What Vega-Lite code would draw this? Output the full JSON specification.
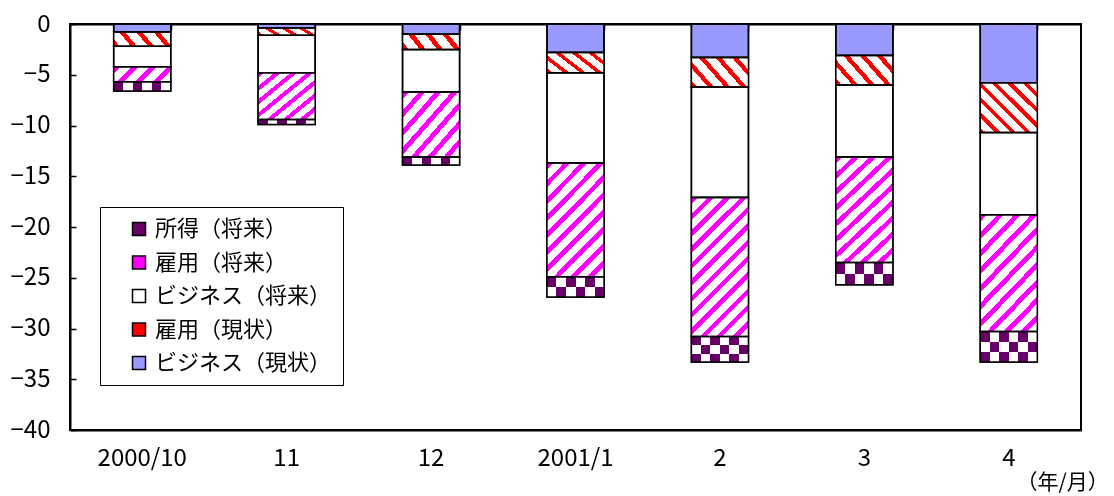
{
  "$schema": "https://vega.github.io/schema/vega-lite/v6.json",
  "width": 1011,
  "height": 406,
  "autosize": "none",
  "padding": {"left": 70, "top": 24, "right": 33, "bottom": 66},
  "background": "white",
  "config": {
    "view": {"stroke": "#000", "strokeWidth": 2},
    "font": "Noto Sans CJK JP",
    "axis": {"labelFont": "Noto Sans CJK JP", "labelColor": "#000", "labelFontSize": 24, "domainColor": "#000", "domainWidth": 2, "tickColor": "#000", "tickWidth": 1.5, "grid": false, "titleFont": "Noto Sans CJK JP", "titleColor": "#000", "titleFontWeight": "normal"},
    "legend": {"labelFont": "Noto Sans CJK JP", "labelColor": "#000", "labelFontSize": 22, "symbolType": "square", "symbolSize": 169, "symbolStrokeColor": "#000", "symbolStrokeWidth": 1.5, "strokeColor": "#000", "fillColor": "#fff", "padding": 11, "rowPadding": 11.5, "labelOffset": 5, "symbolOffset": 17, "labelLimit": 400}
  },
  "data": {"values": [
    {"month": "2000/10", "series": "ビジネス（現状）", "value": -0.8},
    {"month": "2000/10", "series": "雇用（現状）", "value": -1.4},
    {"month": "2000/10", "series": "ビジネス（将来）", "value": -2.0},
    {"month": "2000/10", "series": "雇用（将来）", "value": -1.5},
    {"month": "2000/10", "series": "所得（将来）", "value": -0.9},
    {"month": "11", "series": "ビジネス（現状）", "value": -0.4},
    {"month": "11", "series": "雇用（現状）", "value": -0.7},
    {"month": "11", "series": "ビジネス（将来）", "value": -3.7},
    {"month": "11", "series": "雇用（将来）", "value": -4.6},
    {"month": "11", "series": "所得（将来）", "value": -0.5},
    {"month": "12", "series": "ビジネス（現状）", "value": -1.0},
    {"month": "12", "series": "雇用（現状）", "value": -1.5},
    {"month": "12", "series": "ビジネス（将来）", "value": -4.2},
    {"month": "12", "series": "雇用（将来）", "value": -6.4},
    {"month": "12", "series": "所得（将来）", "value": -0.8},
    {"month": "2001/1", "series": "ビジネス（現状）", "value": -2.8},
    {"month": "2001/1", "series": "雇用（現状）", "value": -2.0},
    {"month": "2001/1", "series": "ビジネス（将来）", "value": -8.9},
    {"month": "2001/1", "series": "雇用（将来）", "value": -11.2},
    {"month": "2001/1", "series": "所得（将来）", "value": -2.0},
    {"month": "2", "series": "ビジネス（現状）", "value": -3.3},
    {"month": "2", "series": "雇用（現状）", "value": -2.9},
    {"month": "2", "series": "ビジネス（将来）", "value": -10.9},
    {"month": "2", "series": "雇用（将来）", "value": -13.7},
    {"month": "2", "series": "所得（将来）", "value": -2.5},
    {"month": "3", "series": "ビジネス（現状）", "value": -3.1},
    {"month": "3", "series": "雇用（現状）", "value": -2.9},
    {"month": "3", "series": "ビジネス（将来）", "value": -7.1},
    {"month": "3", "series": "雇用（将来）", "value": -10.4},
    {"month": "3", "series": "所得（将来）", "value": -2.2},
    {"month": "4", "series": "ビジネス（現状）", "value": -5.8},
    {"month": "4", "series": "雇用（現状）", "value": -4.9},
    {"month": "4", "series": "ビジネス（将来）", "value": -8.1},
    {"month": "4", "series": "雇用（将来）", "value": -11.5},
    {"month": "4", "series": "所得（将来）", "value": -3.0}
  ]},
  "transform": [{"stack": "value", "groupby": ["month"], "as": ["v0", "v1"]}],
  "encoding": {
    "x": {"field": "month", "type": "nominal", "scale": {"domain": ["2000/10", "11", "12", "2001/1", "2", "3", "4"], "paddingInner": 0.605, "paddingOuter": 0.3025}, "axis": null},
    "y": {"field": "v0", "type": "quantitative", "scale": {"domain": [-40, 0], "nice": false, "zero": false},
          "axis": {"orient": "left", "values": [0, -5, -10, -15, -20, -25, -30, -35, -40], "tickSize": -6, "labelPadding": 26, "title": null, "labelOverlap": false}},
    "y2": {"field": "v1"}
  },
  "layer": [
    {
      "mark": {"type": "bar", "stroke": "#000", "strokeWidth": 1.5},
      "encoding": {
        "x": {"field": "month", "type": "nominal", "scale": {"domain": ["2000/10", "11", "12", "2001/1", "2", "3", "4"], "paddingInner": 0.605, "paddingOuter": 0.3025},
              "axis": {"orient": "bottom", "ticks": false, "labelAngle": 0, "labelPadding": 16, "labelOverlap": false, "title": "（年/月）", "titleFontSize": 21, "titleAlign": "left", "titleBaseline": "middle", "titleAnchor": "start", "titleX": 946, "titleY": 52}},
        "color": {"field": "series", "type": "nominal",
                  "scale": {"domain": ["所得（将来）", "雇用（将来）", "ビジネス（将来）", "雇用（現状）", "ビジネス（現状）"], "range": ["#660066", "#FF00FF", "#FFFFFF", "#FF0000", "#9999FF"]},
                  "legend": {"title": null, "orient": "none", "legendX": 30, "legendY": 183}}
      }
    },
    {
      "transform": [{"filter": {"and": [{"field": "series", "equal": "雇用（将来）"}, {"field": "value", "lt": -12}]}}],
      "mark": {"type": "bar", "strokeWidth": 0,
        "fill": {"gradient": "linear", "x1": 0, "y1": 0, "x2": 0.495, "y2": 1.207, "stops": [
              {"offset": 0, "color": "#FF00FF"}, {"offset": 0.0333, "color": "#FF00FF"}, {"offset": 0.0333, "color": "#FFFFFF"}, {"offset": 0.0833, "color": "#FFFFFF"},
              {"offset": 0.0833, "color": "#FF00FF"}, {"offset": 0.1167, "color": "#FF00FF"}, {"offset": 0.1167, "color": "#FFFFFF"}, {"offset": 0.1667, "color": "#FFFFFF"},
              {"offset": 0.1667, "color": "#FF00FF"}, {"offset": 0.2, "color": "#FF00FF"}, {"offset": 0.2, "color": "#FFFFFF"}, {"offset": 0.25, "color": "#FFFFFF"},
              {"offset": 0.25, "color": "#FF00FF"}, {"offset": 0.2833, "color": "#FF00FF"}, {"offset": 0.2833, "color": "#FFFFFF"}, {"offset": 0.3333, "color": "#FFFFFF"},
              {"offset": 0.3333, "color": "#FF00FF"}, {"offset": 0.3667, "color": "#FF00FF"}, {"offset": 0.3667, "color": "#FFFFFF"}, {"offset": 0.4167, "color": "#FFFFFF"},
              {"offset": 0.4167, "color": "#FF00FF"}, {"offset": 0.45, "color": "#FF00FF"}, {"offset": 0.45, "color": "#FFFFFF"}, {"offset": 0.5, "color": "#FFFFFF"},
              {"offset": 0.5, "color": "#FF00FF"}, {"offset": 0.5333, "color": "#FF00FF"}, {"offset": 0.5333, "color": "#FFFFFF"}, {"offset": 0.5833, "color": "#FFFFFF"},
              {"offset": 0.5833, "color": "#FF00FF"}, {"offset": 0.6167, "color": "#FF00FF"}, {"offset": 0.6167, "color": "#FFFFFF"}, {"offset": 0.6667, "color": "#FFFFFF"},
              {"offset": 0.6667, "color": "#FF00FF"}, {"offset": 0.7, "color": "#FF00FF"}, {"offset": 0.7, "color": "#FFFFFF"}, {"offset": 0.75, "color": "#FFFFFF"},
              {"offset": 0.75, "color": "#FF00FF"}, {"offset": 0.7833, "color": "#FF00FF"}, {"offset": 0.7833, "color": "#FFFFFF"}, {"offset": 0.8333, "color": "#FFFFFF"},
              {"offset": 0.8333, "color": "#FF00FF"}, {"offset": 0.8667, "color": "#FF00FF"}, {"offset": 0.8667, "color": "#FFFFFF"}, {"offset": 0.9167, "color": "#FFFFFF"},
              {"offset": 0.9167, "color": "#FF00FF"}, {"offset": 0.95, "color": "#FF00FF"}, {"offset": 0.95, "color": "#FFFFFF"}, {"offset": 1, "color": "#FFFFFF"}]}}
    },
    {
      "transform": [{"filter": {"and": [{"field": "series", "equal": "雇用（将来）"}, {"field": "value", "gte": -12}, {"field": "value", "lt": -8}]}}],
      "mark": {"type": "bar", "strokeWidth": 0,
        "fill": {"gradient": "linear", "x1": 0, "y1": 0, "x2": 0.61, "y2": 1.199, "stops": [
              {"offset": 0, "color": "#FF00FF"}, {"offset": 0.04, "color": "#FF00FF"}, {"offset": 0.04, "color": "#FFFFFF"}, {"offset": 0.1, "color": "#FFFFFF"},
              {"offset": 0.1, "color": "#FF00FF"}, {"offset": 0.14, "color": "#FF00FF"}, {"offset": 0.14, "color": "#FFFFFF"}, {"offset": 0.2, "color": "#FFFFFF"},
              {"offset": 0.2, "color": "#FF00FF"}, {"offset": 0.24, "color": "#FF00FF"}, {"offset": 0.24, "color": "#FFFFFF"}, {"offset": 0.3, "color": "#FFFFFF"},
              {"offset": 0.3, "color": "#FF00FF"}, {"offset": 0.34, "color": "#FF00FF"}, {"offset": 0.34, "color": "#FFFFFF"}, {"offset": 0.4, "color": "#FFFFFF"},
              {"offset": 0.4, "color": "#FF00FF"}, {"offset": 0.44, "color": "#FF00FF"}, {"offset": 0.44, "color": "#FFFFFF"}, {"offset": 0.5, "color": "#FFFFFF"},
              {"offset": 0.5, "color": "#FF00FF"}, {"offset": 0.54, "color": "#FF00FF"}, {"offset": 0.54, "color": "#FFFFFF"}, {"offset": 0.6, "color": "#FFFFFF"},
              {"offset": 0.6, "color": "#FF00FF"}, {"offset": 0.64, "color": "#FF00FF"}, {"offset": 0.64, "color": "#FFFFFF"}, {"offset": 0.7, "color": "#FFFFFF"},
              {"offset": 0.7, "color": "#FF00FF"}, {"offset": 0.74, "color": "#FF00FF"}, {"offset": 0.74, "color": "#FFFFFF"}, {"offset": 0.8, "color": "#FFFFFF"},
              {"offset": 0.8, "color": "#FF00FF"}, {"offset": 0.84, "color": "#FF00FF"}, {"offset": 0.84, "color": "#FFFFFF"}, {"offset": 0.9, "color": "#FFFFFF"},
              {"offset": 0.9, "color": "#FF00FF"}, {"offset": 0.94, "color": "#FF00FF"}, {"offset": 0.94, "color": "#FFFFFF"}, {"offset": 1, "color": "#FFFFFF"}]}}
    },
    {
      "transform": [{"filter": {"and": [{"field": "series", "equal": "雇用（将来）"}, {"field": "value", "gte": -8}, {"field": "value", "lt": -3}]}}],
      "mark": {"type": "bar", "strokeWidth": 0,
        "fill": {"gradient": "linear", "x1": 0, "y1": 0, "x2": 1, "y2": 1, "stops": [
              {"offset": 0, "color": "#FF00FF"}, {"offset": 0.0571, "color": "#FF00FF"}, {"offset": 0.0571, "color": "#FFFFFF"}, {"offset": 0.1429, "color": "#FFFFFF"},
              {"offset": 0.1429, "color": "#FF00FF"}, {"offset": 0.2, "color": "#FF00FF"}, {"offset": 0.2, "color": "#FFFFFF"}, {"offset": 0.2857, "color": "#FFFFFF"},
              {"offset": 0.2857, "color": "#FF00FF"}, {"offset": 0.3429, "color": "#FF00FF"}, {"offset": 0.3429, "color": "#FFFFFF"}, {"offset": 0.4286, "color": "#FFFFFF"},
              {"offset": 0.4286, "color": "#FF00FF"}, {"offset": 0.4857, "color": "#FF00FF"}, {"offset": 0.4857, "color": "#FFFFFF"}, {"offset": 0.5714, "color": "#FFFFFF"},
              {"offset": 0.5714, "color": "#FF00FF"}, {"offset": 0.6286, "color": "#FF00FF"}, {"offset": 0.6286, "color": "#FFFFFF"}, {"offset": 0.7143, "color": "#FFFFFF"},
              {"offset": 0.7143, "color": "#FF00FF"}, {"offset": 0.7714, "color": "#FF00FF"}, {"offset": 0.7714, "color": "#FFFFFF"}, {"offset": 0.8571, "color": "#FFFFFF"},
              {"offset": 0.8571, "color": "#FF00FF"}, {"offset": 0.9143, "color": "#FF00FF"}, {"offset": 0.9143, "color": "#FFFFFF"}, {"offset": 1, "color": "#FFFFFF"}]}}
    },
    {
      "transform": [{"filter": {"and": [{"field": "series", "equal": "雇用（将来）"}, {"field": "value", "gte": -3}]}}],
      "mark": {"type": "bar", "strokeWidth": 0,
        "fill": {"gradient": "linear", "x1": 0, "y1": 0, "x2": 1.18, "y2": 0.307, "stops": [
              {"offset": 0, "color": "#FF00FF"}, {"offset": 0.1, "color": "#FF00FF"}, {"offset": 0.1, "color": "#FFFFFF"}, {"offset": 0.25, "color": "#FFFFFF"},
              {"offset": 0.25, "color": "#FF00FF"}, {"offset": 0.35, "color": "#FF00FF"}, {"offset": 0.35, "color": "#FFFFFF"}, {"offset": 0.5, "color": "#FFFFFF"},
              {"offset": 0.5, "color": "#FF00FF"}, {"offset": 0.6, "color": "#FF00FF"}, {"offset": 0.6, "color": "#FFFFFF"}, {"offset": 0.75, "color": "#FFFFFF"},
              {"offset": 0.75, "color": "#FF00FF"}, {"offset": 0.85, "color": "#FF00FF"}, {"offset": 0.85, "color": "#FFFFFF"}, {"offset": 1, "color": "#FFFFFF"}]}}
    },
    {
      "transform": [{"filter": {"and": [{"field": "series", "equal": "雇用（現状）"}, {"field": "value", "lt": -3.5}]}}],
      "mark": {"type": "bar", "strokeWidth": 0,
        "fill": {"gradient": "linear", "x1": 0, "y1": 1, "x2": 1.061, "y2": 0.069, "stops": [
              {"offset": 0, "color": "#FF0000"}, {"offset": 0.05, "color": "#FF0000"}, {"offset": 0.05, "color": "#FFFFFF"}, {"offset": 0.1429, "color": "#FFFFFF"},
              {"offset": 0.1429, "color": "#FF0000"}, {"offset": 0.1929, "color": "#FF0000"}, {"offset": 0.1929, "color": "#FFFFFF"}, {"offset": 0.2857, "color": "#FFFFFF"},
              {"offset": 0.2857, "color": "#FF0000"}, {"offset": 0.3357, "color": "#FF0000"}, {"offset": 0.3357, "color": "#FFFFFF"}, {"offset": 0.4286, "color": "#FFFFFF"},
              {"offset": 0.4286, "color": "#FF0000"}, {"offset": 0.4786, "color": "#FF0000"}, {"offset": 0.4786, "color": "#FFFFFF"}, {"offset": 0.5714, "color": "#FFFFFF"},
              {"offset": 0.5714, "color": "#FF0000"}, {"offset": 0.6214, "color": "#FF0000"}, {"offset": 0.6214, "color": "#FFFFFF"}, {"offset": 0.7143, "color": "#FFFFFF"},
              {"offset": 0.7143, "color": "#FF0000"}, {"offset": 0.7643, "color": "#FF0000"}, {"offset": 0.7643, "color": "#FFFFFF"}, {"offset": 0.8571, "color": "#FFFFFF"},
              {"offset": 0.8571, "color": "#FF0000"}, {"offset": 0.9071, "color": "#FF0000"}, {"offset": 0.9071, "color": "#FFFFFF"}, {"offset": 1, "color": "#FFFFFF"}]}}
    },
    {
      "transform": [{"filter": {"and": [{"field": "series", "equal": "雇用（現状）"}, {"field": "value", "gte": -3.5}, {"field": "value", "lt": -1.7}]}}],
      "mark": {"type": "bar", "strokeWidth": 0,
        "fill": {"gradient": "linear", "x1": 0, "y1": 1, "x2": 1.205, "y2": 0.45, "stops": [
              {"offset": 0, "color": "#FF0000"}, {"offset": 0.07, "color": "#FF0000"}, {"offset": 0.07, "color": "#FFFFFF"}, {"offset": 0.2, "color": "#FFFFFF"},
              {"offset": 0.2, "color": "#FF0000"}, {"offset": 0.27, "color": "#FF0000"}, {"offset": 0.27, "color": "#FFFFFF"}, {"offset": 0.4, "color": "#FFFFFF"},
              {"offset": 0.4, "color": "#FF0000"}, {"offset": 0.47, "color": "#FF0000"}, {"offset": 0.47, "color": "#FFFFFF"}, {"offset": 0.6, "color": "#FFFFFF"},
              {"offset": 0.6, "color": "#FF0000"}, {"offset": 0.67, "color": "#FF0000"}, {"offset": 0.67, "color": "#FFFFFF"}, {"offset": 0.8, "color": "#FFFFFF"},
              {"offset": 0.8, "color": "#FF0000"}, {"offset": 0.87, "color": "#FF0000"}, {"offset": 0.87, "color": "#FFFFFF"}, {"offset": 1, "color": "#FFFFFF"}]}}
    },
    {
      "transform": [{"filter": {"and": [{"field": "series", "equal": "雇用（現状）"}, {"field": "value", "gte": -1.7}]}}],
      "mark": {"type": "bar", "strokeWidth": 0,
        "fill": {"gradient": "linear", "x1": 0, "y1": 1, "x2": 1.159, "y2": 0.757, "stops": [
              {"offset": 0, "color": "#FF0000"}, {"offset": 0.0875, "color": "#FF0000"}, {"offset": 0.0875, "color": "#FFFFFF"}, {"offset": 0.25, "color": "#FFFFFF"},
              {"offset": 0.25, "color": "#FF0000"}, {"offset": 0.3375, "color": "#FF0000"}, {"offset": 0.3375, "color": "#FFFFFF"}, {"offset": 0.5, "color": "#FFFFFF"},
              {"offset": 0.5, "color": "#FF0000"}, {"offset": 0.5875, "color": "#FF0000"}, {"offset": 0.5875, "color": "#FFFFFF"}, {"offset": 0.75, "color": "#FFFFFF"},
              {"offset": 0.75, "color": "#FF0000"}, {"offset": 0.8375, "color": "#FF0000"}, {"offset": 0.8375, "color": "#FFFFFF"}, {"offset": 1, "color": "#FFFFFF"}]}}
    },
    {
      "transform": [{"filter": {"and": [{"field": "series", "equal": "所得（将来）"}, {"field": "value", "lt": -2.3}]}}],
      "mark": {"type": "bar", "strokeWidth": 0,
        "fill": {"gradient": "linear", "x1": 0, "y1": 0, "x2": 0, "y2": 1, "stops": [
              {"offset": 0, "color": "#000000"}, {"offset": 0.3333, "color": "#000000"}, {"offset": 0.3333, "color": "#FFFFFF"}, {"offset": 0.6667, "color": "#FFFFFF"},
              {"offset": 0.6667, "color": "#000000"}, {"offset": 1, "color": "#000000"}]}}
    },
    {
      "transform": [{"filter": {"and": [{"field": "series", "equal": "所得（将来）"}, {"field": "value", "gte": -2.3}, {"field": "value", "lt": -1.5}]}}],
      "mark": {"type": "bar", "strokeWidth": 0,
        "fill": {"gradient": "linear", "x1": 0, "y1": 0, "x2": 0, "y2": 1, "stops": [
              {"offset": 0, "color": "#000000"}, {"offset": 0.5, "color": "#000000"}, {"offset": 0.5, "color": "#FFFFFF"}, {"offset": 1, "color": "#FFFFFF"}]}}
    },
    {
      "transform": [{"filter": {"and": [{"field": "series", "equal": "所得（将来）"}, {"field": "value", "gte": -1.5}]}}],
      "mark": {"type": "bar", "strokeWidth": 0, "fill": "#000000"}
    },
    {
      "transform": [{"filter": {"field": "series", "equal": "所得（将来）"}}],
      "mark": {"type": "bar", "strokeWidth": 0, "blend": "difference",
        "fill": {"gradient": "linear", "x1": 0, "y1": 0, "x2": 1, "y2": 0, "stops": [
          {"offset": 0, "color": "#000000"}, {"offset": 0.1667, "color": "#000000"}, {"offset": 0.1667, "color": "#FFFFFF"}, {"offset": 0.3333, "color": "#FFFFFF"},
          {"offset": 0.3333, "color": "#000000"}, {"offset": 0.5, "color": "#000000"}, {"offset": 0.5, "color": "#FFFFFF"}, {"offset": 0.6667, "color": "#FFFFFF"},
          {"offset": 0.6667, "color": "#000000"}, {"offset": 0.8333, "color": "#000000"}, {"offset": 0.8333, "color": "#FFFFFF"}, {"offset": 1, "color": "#FFFFFF"}]}}
    },
    {
      "transform": [{"filter": {"field": "series", "equal": "所得（将来）"}}],
      "mark": {"type": "bar", "strokeWidth": 0, "blend": "screen", "fill": "#660066"}
    },
    {
      "mark": {"type": "bar", "fill": "transparent", "stroke": "#000", "strokeWidth": 1.5},
      "encoding": {
        "x": {"field": "month", "type": "nominal", "scale": {"domain": ["2000/10", "11", "12", "2001/1", "2", "3", "4"], "paddingInner": 0.605, "paddingOuter": 0.3025},
              "axis": {"orient": "top", "labels": false, "tickBand": "extent", "tickSize": -6, "title": null}}
      }
    }
  ],
  "resolve": {"axis": {"x": "independent"}}
}
